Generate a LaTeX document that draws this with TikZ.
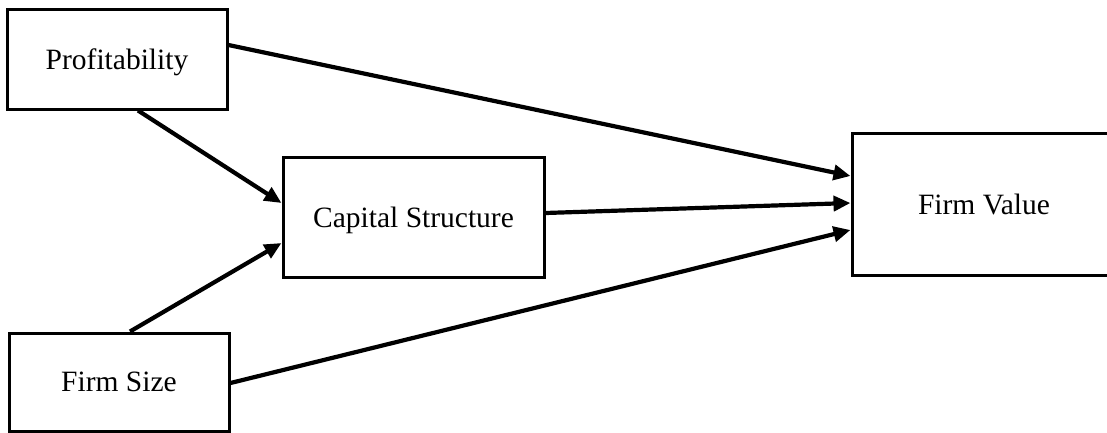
\documentclass[tikz,border=0pt]{standalone}
\usepackage{fontspec}
\setmainfont{Liberation Serif}
\usetikzlibrary{arrows.meta,calc}
\tikzset{
  box/.style={draw=black, line width=3pt, fill=white, inner sep=0pt, text depth=0pt, font=\fontsize{29.5}{34}\selectfont},
  conn/.style={line width=4.2pt, -{Triangle[length=17pt,width=15pt]}}
}
\begin{document}
\begin{tikzpicture}[x=1pt,y=-1pt]
\useasboundingbox (0,0) rectangle (1107,432);
\clip (0,0) rectangle (1107,432);
\node[box, minimum width=220pt, minimum height=100pt] (prof) at (117,59) {Profitability};
\node[box, minimum width=261pt, minimum height=120pt] (cs) at (413.5,217) {Capital Structure};
\node[box, minimum width=264pt, minimum height=142pt] (fv) at (984,204) {Firm Value};
\node[box, minimum width=220pt, minimum height=98pt] (size) at (119,382) {Firm Size};
\draw[conn] ($(prof.east)+(0,-14)$) -- ($(fv.west)+(0,-28)$);
\draw[conn] ($(prof.south)+(21,0)$) -- ($(cs.west)+(0,-14)$);
\draw[conn] ($(cs.east)+(0,-4)$) -- ($(fv.west)+(0,-1)$);
\draw[conn] ($(size.north)+(11,0)$) -- ($(cs.west)+(0,26)$);
\draw[conn] ($(size.east)+(0,1)$) -- ($(fv.west)+(0,26)$);
\end{tikzpicture}
\end{document}
